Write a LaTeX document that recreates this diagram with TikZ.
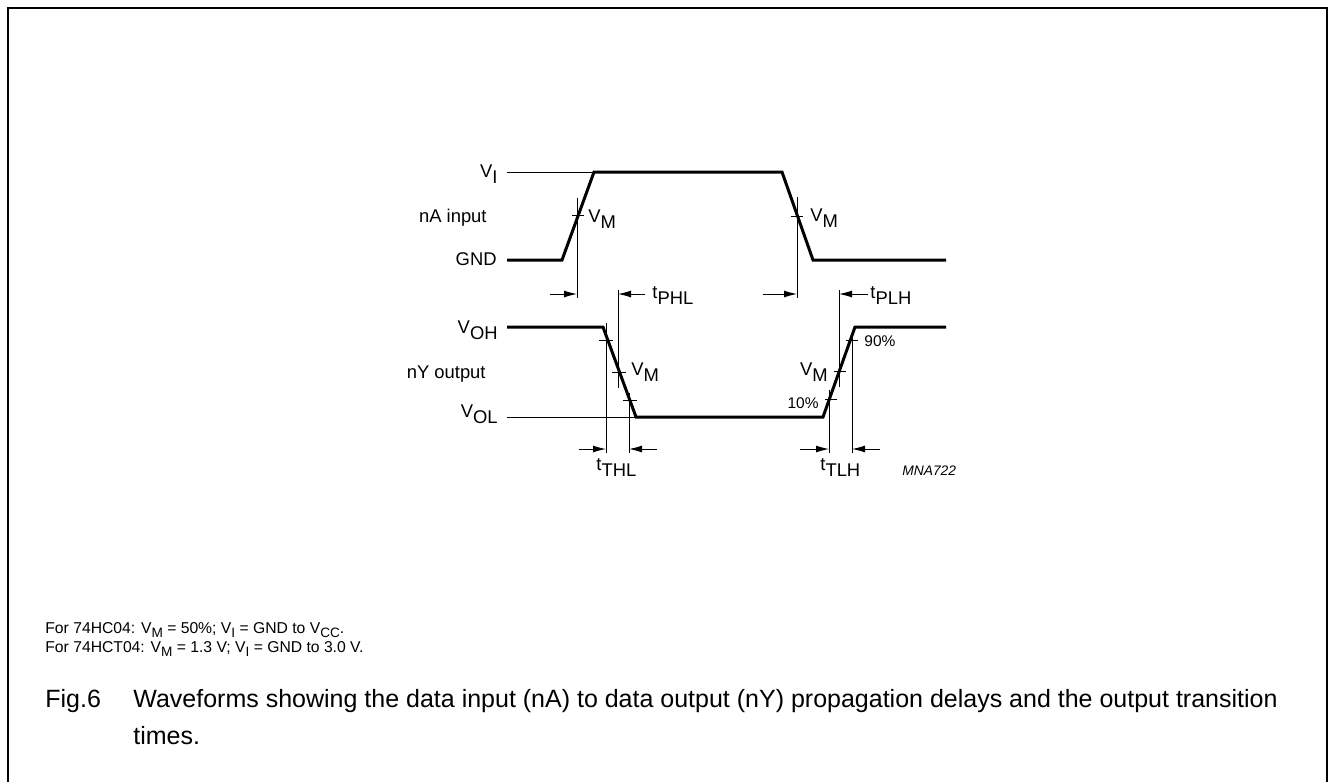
\documentclass[tikz,border=0pt]{standalone}
\usepackage{fontspec}
\setmainfont{Liberation Sans}
\usetikzlibrary{arrows.meta}

% lowered subscripts as used in the figure
\newcommand{\lo}[1]{\raisebox{-0.35em}{#1}}
\newcommand{\nlo}[1]{\raisebox{-0.3em}{\fontsize{6.8}{8}\selectfont #1}}

\tikzset{
  wave/.style={line width=1.5pt, line join=miter},
  thinline/.style={line width=0.5pt},
  frame/.style={line width=1pt},
  dimarrow/.style={line width=0.5pt, -{Latex[length=6.5pt,width=3.5pt]}},
  lbl/.style={inner sep=0pt, font=\fontsize{9.2}{11}\selectfont},
  pct/.style={inner sep=0pt, font=\fontsize{7.75}{9}\selectfont},
  note/.style={inner sep=0pt, font=\fontsize{7.85}{9.5}\selectfont},
  capt/.style={inner sep=0pt, font=\fontsize{12.5}{15}\selectfont},
}

\begin{document}
\begin{tikzpicture}[x=0.5pt,y=-0.5pt]
                    \useasboundingbox (0,0) rectangle (1329,782);
                    
                    % Drawing frame
                    \draw [frame] (8,782) -- (8,8) -- (1327,8) -- (1327,782);%
                    
                    % Corners of input waveform nA
                    \coordinate (inA) at (507,260);%
                    \coordinate (inB) at (562,260);%
                    \coordinate (inC) at (594,172);%
                    \coordinate (inD) at (782,172);%
                    \coordinate (inE) at (813,260);%
                    \coordinate (inF) at (946,260);%
                    \coordinate (viL) at (507,172);%
                    
                    % Drawing input waveform
                    \draw [wave] (inA) -- (inB) -- (inC) -- (inD) -- (inE) -- (inF);%
                    \draw [thinline] (viL) -- (inC);%
                    
                    % Corners of output waveform nY
                    \coordinate (outA) at (507,327);%
                    \coordinate (outB) at (603,327);%
                    \coordinate (outC) at (636,417);%
                    \coordinate (outD) at (823,417);%
                    \coordinate (outE) at (855,327);%
                    \coordinate (outF) at (946,327);%
                    \coordinate (volL) at (507,417);%
                    
                    % Drawing output waveform
                    \draw [wave] (outA) -- (outB) -- (outC) -- (outD) -- (outE) -- (outF);%
                    \draw [thinline] (volL) -- (outC);%
                    
                    % Reference lines through V_M, 10% and 90%
                    \coordinate (rmAt) at (577,198);  \coordinate (rmAb) at (577,298);%
                    \coordinate (rmBt) at (797,197);  \coordinate (rmBb) at (797,298);%
                    \coordinate (rphlT) at (618,290); \coordinate (rphlB) at (618,388);%
                    \coordinate (rplhT) at (839,290); \coordinate (rplhB) at (839,387);%
                    \coordinate (rf90t) at (606,323); \coordinate (rf90b) at (606,453);%
                    \coordinate (rf10t) at (629,393); \coordinate (rf10b) at (629,453);%
                    \coordinate (rr10t) at (829,390); \coordinate (rr10b) at (829,453);%
                    \coordinate (rr90t) at (852,333); \coordinate (rr90b) at (852,453);%
                    \draw [thinline] (rmAt) -- (rmAb);%
                    \draw [thinline] (rmBt) -- (rmBb);%
                    \draw [thinline] (rphlT) -- (rphlB);%
                    \draw [thinline] (rplhT) -- (rplhB);%
                    \draw [thinline] (rf90t) -- (rf90b);%
                    \draw [thinline] (rf10t) -- (rf10b);%
                    \draw [thinline] (rr10t) -- (rr10b);%
                    \draw [thinline] (rr90t) -- (rr90b);%
                    
                    % Drawing ticks on the edges
                    \draw [thinline] (578,215) +(-6,0) -- +(6,0);%
                    \draw [thinline] (797,216) +(-6,0) -- +(6,0);%
                    \draw [thinline] (606,340) +(-7,0) -- +(7,0);%
                    \draw [thinline] (619,372) +(-7,0) -- +(7,0);%
                    \draw [thinline] (630,400) +(-7,0) -- +(7,0);%
                    \draw [thinline] (831,399) +(-6,0) -- +(6,0);%
                    \draw [thinline] (840,371) +(-6,0) -- +(6,0);%
                    \draw [thinline] (852,340) +(-6,0) -- +(6,0);%
                    
                    % Tails of the time arrows
                    \coordinate (tailA) at (550,294);%
                    \coordinate (tailB) at (763,294);%
                    \coordinate (tailC) at (645,294);%
                    \coordinate (tailD) at (868,294);%
                    \coordinate (tailE) at (579,449);%
                    \coordinate (tailF) at (657,449);%
                    \coordinate (tailG) at (800,449);%
                    \coordinate (tailH) at (880,449);%
                    
                    % Drawing time arrows
                    \draw [dimarrow] (tailA) -- (tailA -| rmAt);%
                    \draw [dimarrow] (tailB) -- (tailB -| rmBt);%
                    \draw [dimarrow] (tailC) -- (tailC -| rphlT);%
                    \draw [dimarrow] (tailD) -- (tailD -| rplhT);%
                    \draw [dimarrow] (tailE) -- (tailE -| rf90t);%
                    \draw [dimarrow] (tailF) -- (tailF -| rf10t);%
                    \draw [dimarrow] (tailG) -- (tailG -| rr10t);%
                    \draw [dimarrow] (tailH) -- (tailH -| rr90t);%
                    
                    % Marking levels
                    \node (vilbl) [lbl, anchor=base east] at (498,177) {V\lo{I}};%
                    \node (nalbl) [lbl, anchor=base east] at (487,222) {nA input};%
                    \node (gndlbl) [lbl, anchor=base east] at (497,265) {GND};%
                    \node (vohlbl) [lbl, anchor=base east] at (498,333) {V\lo{OH}};%
                    \node (nylbl) [lbl, anchor=base east] at (486,378) {nY output};%
                    \node (vollbl) [lbl, anchor=base east] at (498,417) {V\lo{OL}};%
                    
                    % Marking V_M, 10% and 90%
                    \node (vmA) [lbl, anchor=base west] at (588,222) {V\lo{M}};%
                    \node (vmB) [lbl, anchor=base west] at (810,221) {V\lo{M}};%
                    \node (vmC) [lbl, anchor=base west] at (631,375) {V\lo{M}};%
                    \node (vmD) [lbl, anchor=base east] at (828,375) {V\lo{M}};%
                    \node (tenpc) [pct, anchor=base east] at (819,408) {10\%};%
                    \node (ninetypc) [pct, anchor=base west] at (864,346) {90\%};%
                    
                    % Marking times
                    \node (tphl) [lbl, anchor=base west] at (652,298) {t\lo{PHL}};%
                    \node (tplh) [lbl, anchor=base west] at (870,298) {t\lo{PLH}};%
                    \node (tthl) [lbl, anchor=base west] at (596,470) {t\lo{THL}};%
                    \node (ttlh) [lbl, anchor=base west] at (820,470) {t\lo{TLH}};%
                    \node (mna) [pct, font=\fontsize{6.9}{8}\selectfont\itshape, anchor=base west] at (902,475) {MNA722};%
                    
                    % Notes
                    \node (noteA) [note, anchor=base west] at (45,633) {For 74HC04: V\nlo{M} = 50\%; V\nlo{I} = GND to V\nlo{CC}.};%
                    \node (noteB) [note, anchor=base west] at (45,652) {For 74HCT04: V\nlo{M} = 1.3 V; V\nlo{I} = GND to 3.0 V.};%
                    
                    % Caption
                    \node (fignum) [capt, anchor=base west] at (45,707) {Fig.6};%
                    \node (captA) [capt, anchor=base west] at (133,707) {Waveforms showing the data input (nA) to data output (nY) propagation delays and the output transition};%
                    \node (captB) [capt, anchor=base west] at (133,744) {times.};%
                \end{tikzpicture}
\end{document}
